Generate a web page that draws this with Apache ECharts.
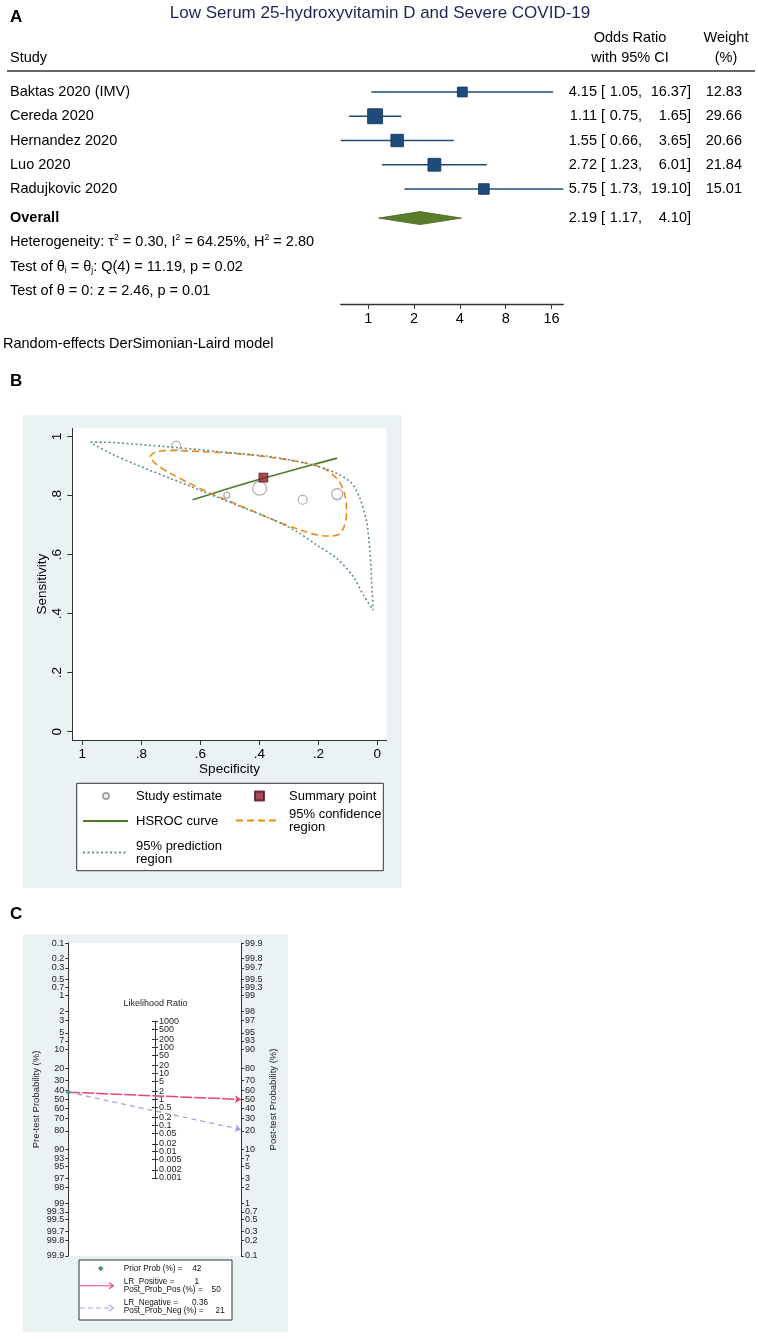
<!DOCTYPE html>
<html><head><meta charset="utf-8">
<script src="https://cdn.jsdelivr.net/npm/echarts@6/dist/echarts.min.js"></script>
<style>html,body{margin:0;padding:0;background:#fff}#c{width:758px;height:1339px}</style>
</head><body><div id="c"></div>
<script>
// ---------------- Panel A data (forest plot) ----------------
const titleA = 'Low Serum 25-hydroxyvitamin D and Severe COVID-19';
const studies = ['Baktas 2020 (IMV)', 'Cereda 2020', 'Hernandez 2020', 'Luo 2020', 'Radujkovic 2020'];
const oddsRatio = [4.15, 1.11, 1.55, 2.72, 5.75];
const ciLower = [1.05, 0.75, 0.66, 1.23, 1.73];
const ciUpper = [16.37, 1.65, 3.65, 6.01, 19.10];
const weights = [12.83, 29.66, 20.66, 21.84, 15.01];
const overallOR = [2.19, 1.17, 4.10];
const forestTicks = [1, 2, 4, 8, 16];
const hetStats = { tau2: '0.30', i2: '64.25', h2: '2.80', q: '11.19', df: 4, pQ: '0.02', z: '2.46', pZ: '0.01' };

// ---------------- Panel B data (SROC) ----------------
const studySpec = [0.682, 0.510, 0.399, 0.253, 0.136];
const studySens = [0.969, 0.801, 0.825, 0.786, 0.805];
const studyRelWeight = [0.9, 0.6, 1.4, 0.9, 1.1];
const summarySpec = [0.386];
const summarySens = [0.861];
const hsrocSpec = [0.626, 0.510, 0.386, 0.251, 0.136];
const hsrocSens = [0.786, 0.822, 0.859, 0.896, 0.927];
const confSpec = [0.771, 0.754, 0.703, 0.590, 0.477, 0.364, 0.251, 0.183, 0.138, 0.113, 0.104, 0.110, 0.132, 0.172, 0.251, 0.364, 0.477, 0.590, 0.703, 0.754, 0.771];
const confSens = [0.932, 0.947, 0.953, 0.949, 0.942, 0.930, 0.912, 0.893, 0.859, 0.814, 0.751, 0.701, 0.667, 0.663, 0.680, 0.723, 0.771, 0.819, 0.876, 0.910, 0.932];
const predSpec = [0.972, 0.929, 0.816, 0.682, 0.533, 0.364, 0.228, 0.138, 0.087, 0.059, 0.036, 0.025, 0.019, 0.014, 0.047, 0.081, 0.138, 0.206, 0.273, 0.364, 0.477, 0.590, 0.703, 0.816, 0.906, 0.962, 0.972];
const predSens = [0.981, 0.981, 0.974, 0.963, 0.949, 0.932, 0.906, 0.876, 0.842, 0.791, 0.712, 0.610, 0.508, 0.412, 0.463, 0.525, 0.588, 0.633, 0.678, 0.723, 0.768, 0.814, 0.859, 0.904, 0.944, 0.974, 0.981];
const srocTicks = [0, 0.2, 0.4, 0.6, 0.8, 1];

// ---------------- Panel C data (Fagan nomogram) ----------------
const preTicks = [0.1, 0.2, 0.3, 0.5, 0.7, 1, 2, 3, 5, 7, 10, 20, 30, 40, 50, 60, 70, 80, 90, 93, 95, 97, 98, 99, 99.3, 99.5, 99.7, 99.8, 99.9];
const postTicks = [99.9, 99.8, 99.7, 99.5, 99.3, 99, 98, 97, 95, 93, 90, 80, 70, 60, 50, 40, 30, 20, 10, 7, 5, 3, 2, 1, 0.7, 0.5, 0.3, 0.2, 0.1];
const lrTicks = [1000, 500, 200, 100, 50, 20, 10, 5, 2, 1, 0.5, 0.2, 0.1, 0.05, 0.02, 0.01, 0.005, 0.002, 0.001];
const priorProb = 42;
const lrPositive = 1;
const postProbPos = 50;
const lrNegative = 0.36;
const postProbNeg = 21;

// ---------------- helpers ----------------
const FONT = "'Liberation Sans', Arial, Helvetica, sans-serif";
const logit = p => Math.log(p / (1 - p));
function txt(x, y, text, o) {
  return { type: 'text', x: x, y: y, z: 10, silent: true,
    style: Object.assign({ text: text, fontFamily: FONT, fontSize: 14.5, fill: '#000', align: 'left', verticalAlign: 'middle' }, o || {}) };
}
const chart = echarts.init(document.getElementById('c'), null, { renderer: 'canvas' });

// layout of panel A rows
const rowTop = 92, rowStep = 24.25;
const overallRow = studies.length + 0.2;
const rowPx = r => rowTop + rowStep * r;

// panel C geometry
const cLeft = 68.3, cTop = 943, cW = 172.7, cH = 313;
const cRange = Math.log(1000);
const lrRange = 3.001;
const lrHalfPx = (lrRange * Math.LN10 / 2) / cRange * (cH / 2);
const cMid = cTop + cH / 2;

const leftMap = new Map(preTicks.map(p => [logit(p / 100).toFixed(6), String(p)]));
const rightMap = new Map(postTicks.map(p => [(-logit(p / 100)).toFixed(6), String(p)]));
const lrMap = new Map(lrTicks.map(v => [Math.log10(v).toFixed(6), String(v)]));
const lrLog = lrTicks.map(v => Math.log10(v));
const lrInner = lrLog.slice(1, -1);
const lrEnds = [lrLog[0], lrLog[lrLog.length - 1]];

// ---------------- graphic (texts / frames) ----------------
const g = [];
g.push({ type: 'rect', z: -5, silent: true, shape: { x: 23, y: 415, width: 378.7, height: 473 }, style: { fill: '#eaf2f3' } });
g.push({ type: 'rect', z: -5, silent: true, shape: { x: 23, y: 934, width: 265, height: 398 }, style: { fill: '#eaf2f3' } });
g.push(txt(10, 17, 'A', { fontWeight: 'bold', fontSize: 17 }));
g.push(txt(10, 381, 'B', { fontWeight: 'bold', fontSize: 17 }));
g.push(txt(10, 914, 'C', { fontWeight: 'bold', fontSize: 17 }));
g.push(txt(380, 13, titleA, { fontSize: 17, fill: '#1b2553', align: 'center' }));
g.push(txt(10, 58, 'Study'));
g.push(txt(630, 38, 'Odds Ratio', { align: 'center' }));
g.push(txt(630, 58, 'with 95% CI', { align: 'center' }));
g.push(txt(726, 38, 'Weight', { align: 'center' }));
g.push(txt(726, 58, '(%)', { align: 'center' }));
g.push({ type: 'line', silent: true, z: 5, shape: { x1: 7, y1: 71, x2: 755, y2: 71 }, style: { stroke: '#333', lineWidth: 1.4 } });
function ciCols(y, or, lo, hi, w) {
  g.push(txt(597, y, or.toFixed(2), { align: 'right' }));
  g.push(txt(601, y, '[', { align: 'left' }));
  g.push(txt(642, y, lo.toFixed(2) + ',', { align: 'right' }));
  g.push(txt(691, y, hi.toFixed(2) + ']', { align: 'right' }));
  if (w != null) g.push(txt(742, y, w.toFixed(2), { align: 'right' }));
}
studies.forEach((s, i) => {
  const y = rowPx(i);
  g.push(txt(10, y, s));
  ciCols(y, oddsRatio[i], ciLower[i], ciUpper[i], weights[i]);
});
const yOv = rowPx(overallRow);
g.push(txt(10, yOv, 'Overall', { fontWeight: 'bold' }));
ciCols(yOv, overallOR[0], overallOR[1], overallOR[2], null);
const richA = {
  n: { fontSize: 14.5, fontFamily: FONT, fill: '#000', lineHeight: 17 },
  s: { fontSize: 8.5, fontFamily: FONT, fill: '#000', lineHeight: 17, verticalAlign: 'top' },
  b: { fontSize: 8.5, fontFamily: FONT, fill: '#000', lineHeight: 17, verticalAlign: 'bottom' }
};
g.push(txt(10, 242, '{n|Heterogeneity: \u03c4}{s|2}{n| = ' + hetStats.tau2 + ', I}{s|2}{n| = ' + hetStats.i2 + '%, H}{s|2}{n| = ' + hetStats.h2 + '}', { rich: richA }));
g.push(txt(10, 267, '{n|Test of \u03b8}{b|i}{n| = \u03b8}{b|j}{n|: Q(' + hetStats.df + ') = ' + hetStats.q + ', p = ' + hetStats.pQ + '}', { rich: richA }));
g.push(txt(10, 291, 'Test of \u03b8 = 0: z = ' + hetStats.z + ', p = ' + hetStats.pZ));
g.push(txt(3, 344, 'Random-effects DerSimonian-Laird model'));
g.push({ type: 'rect', z: 1, silent: true, shape: { x: 76.7, y: 783.3, width: 306.6, height: 87.4 }, style: { fill: '#fff', stroke: '#333', lineWidth: 1 } });
g.push(txt(155.5, 1004, 'Likelihood Ratio', { fontSize: 9, align: 'center', fill: '#222' }));
// Panel C legend
g.push({ type: 'rect', z: 1, silent: true, shape: { x: 79, y: 1260, width: 153, height: 60 }, style: { fill: '#fff', stroke: '#333', lineWidth: 1 } });
g.push({ type: 'polygon', z: 10, silent: true, shape: { points: [[100.7, 1265.7], [103.5, 1268.5], [100.7, 1271.3], [97.9, 1268.5]] }, style: { fill: '#4e8a76' } });
const fC = { fontSize: 8.2, fill: '#111' };
const fCR = Object.assign({ align: 'right' }, fC);
g.push(txt(123.7, 1268.7, 'Prior Prob (%) =', fC));
g.push(txt(201.3, 1268.7, String(priorProb), fCR));
g.push({ type: 'line', z: 10, silent: true, shape: { x1: 80, y1: 1285.7, x2: 113, y2: 1285.7 }, style: { stroke: '#e5456f', lineWidth: 1.1 } });
g.push({ type: 'polyline', z: 10, silent: true, shape: { points: [[109, 1282.7], [113.5, 1285.7], [109, 1288.7]] }, style: { stroke: '#e5456f', lineWidth: 1.1, fill: null } });
g.push(txt(123.7, 1282, 'LR_Positive =', fC));
g.push(txt(199, 1282, String(lrPositive), fCR));
g.push(txt(123.7, 1290, 'Post_Prob_Pos (%) =', fC));
g.push(txt(220.7, 1290, String(postProbPos), fCR));
g.push({ type: 'line', z: 10, silent: true, shape: { x1: 80, y1: 1308, x2: 113, y2: 1308 }, style: { stroke: '#a8a2ea', lineWidth: 1.1, lineDash: [5, 3] } });
g.push({ type: 'polyline', z: 10, silent: true, shape: { points: [[109, 1305], [113.5, 1308], [109, 1311]] }, style: { stroke: '#a8a2ea', lineWidth: 1.1, fill: null } });
g.push(txt(123.7, 1302.3, 'LR_Negative =', fC));
g.push(txt(208, 1302.3, String(lrNegative), fCR));
g.push(txt(123.7, 1310.5, 'Post_Prob_Neg (%) =', fC));
g.push(txt(224.7, 1310.5, String(postProbNeg), fCR));

// ---------------- legends for panel B ----------------
const legBase = { padding: 0, selectedMode: false, textStyle: { fontFamily: FONT, fontSize: 13, color: '#000', lineHeight: 13 } };
function leg(name, left, top, w, h, padLeft, extra) {
  return Object.assign({}, legBase, {
    data: [name], left: left, top: top, itemWidth: w, itemHeight: h,
    textStyle: Object.assign({}, legBase.textStyle, { padding: [0, 0, 0, padLeft] }),
    formatter: n => n.replace(' region', '\nregion')
  }, extra || {});
}
const noDot = { itemStyle: { color: 'rgba(0,0,0,0)', borderColor: 'rgba(0,0,0,0)', borderWidth: 0 } };

const axisStyle = { lineStyle: { color: '#333', width: 1 } };
const lrLabelBase = { inside: true, fontSize: 9, color: '#222', margin: 4, fontFamily: FONT,
  showMinLabel: true, showMaxLabel: true, hideOverlap: false,
  formatter: v => lrMap.get(Number(v).toFixed(6)) || '' };

const option = {
  animation: false,
  textStyle: { fontFamily: FONT },
  graphic: { elements: g },
  legend: [
    leg('Study estimate', 102, 789.5, 6, 6, 22, { icon: 'circle' }),
    leg('Summary point', 254, 789.5, 9, 9, 20, { icon: 'rect' }),
    leg('HSROC curve', 82, 814.5, 45, 8, 3, noDot),
    leg('95% confidence region', 235, 807.5, 43, 8, 5, noDot),
    leg('95% prediction region', 82, 839.5, 45, 8, 3, noDot)
  ],
  grid: [
    { left: 340.7, top: 71, width: 222.6, height: 233 },
    { left: 72.3, top: 428.3, width: 314.4, height: 311.7, show: true, backgroundColor: '#fff', borderWidth: 0 },
    { left: cLeft, top: cTop, width: cW, height: cH, show: true, backgroundColor: '#fff', borderWidth: 0 },
    { left: 155, top: cMid - lrHalfPx, width: 1, height: 2 * lrHalfPx }
  ],
  xAxis: [
    { gridIndex: 0, type: 'log', logBase: 2, min: 0.66, max: 19.1, position: 'bottom',
      axisLine: { show: true, onZero: false, lineStyle: { color: '#333', width: 1.3 } },
      axisTick: { show: true, length: 5, customValues: forestTicks, lineStyle: { color: '#333' } },
      axisLabel: { customValues: forestTicks, fontSize: 14.5, color: '#000', margin: 7, fontFamily: FONT },
      splitLine: { show: false }, minorTick: { show: false } },
    { gridIndex: 1, type: 'value', min: -0.032, max: 1.034, inverse: true, position: 'bottom',
      name: 'Specificity', nameLocation: 'middle', nameGap: 21, nameTextStyle: { fontSize: 13.5, color: '#000', fontFamily: FONT },
      axisLine: Object.assign({ onZero: false }, axisStyle),
      axisTick: { length: 5, customValues: srocTicks, lineStyle: { color: '#333' } },
      axisLabel: { customValues: srocTicks, fontSize: 13.5, color: '#000', margin: 7, fontFamily: FONT, showMinLabel: true, showMaxLabel: true,
        formatter: v => v < 0.001 ? '0' : (v > 0.999 ? '1' : '.' + Math.round(v * 10)) },
      splitLine: { show: false } },
    { gridIndex: 2, type: 'value', min: 0, max: 1, show: false },
    { gridIndex: 3, type: 'value', min: 0, max: 1, show: false }
  ],
  yAxis: [
    { gridIndex: 0, type: 'value', min: (71 - rowTop) / rowStep, max: (304 - rowTop) / rowStep, inverse: true, show: false },
    { gridIndex: 1, type: 'value', min: -0.028, max: 1.028, position: 'left',
      name: 'Sensitivity', nameLocation: 'middle', nameGap: 23, nameRotate: 90, nameTextStyle: { fontSize: 13.5, color: '#000', fontFamily: FONT },
      axisLine: Object.assign({ onZero: false }, axisStyle),
      axisTick: { length: 5, customValues: srocTicks, lineStyle: { color: '#333' } },
      axisLabel: { customValues: srocTicks, rotate: 90, fontSize: 13.5, color: '#000', margin: 8, fontFamily: FONT, showMinLabel: true, showMaxLabel: true,
        formatter: v => v < 0.001 ? '0' : (v > 0.999 ? '1' : '.' + Math.round(v * 10)) },
      splitLine: { show: false } },
    { gridIndex: 2, type: 'value', min: -cRange, max: cRange, inverse: true, position: 'left',
      name: 'Pre-test Probability (%)', nameLocation: 'middle', nameGap: 27, nameRotate: 90,
      nameTextStyle: { fontSize: 9.5, color: '#222', fontFamily: FONT },
      axisLine: Object.assign({ onZero: false }, axisStyle),
      axisTick: { length: 3, customValues: preTicks.map(p => logit(p / 100)), lineStyle: { color: '#333' } },
      axisLabel: { customValues: preTicks.map(p => logit(p / 100)), fontSize: 9, color: '#222', margin: 4, fontFamily: FONT, showMinLabel: true, showMaxLabel: true, hideOverlap: false,
        formatter: v => leftMap.get(Number(v).toFixed(6)) || '' },
      splitLine: { show: false } },
    { gridIndex: 2, type: 'value', min: -cRange, max: cRange, inverse: true, position: 'right',
      name: 'Post-test Probability (%)', nameLocation: 'middle', nameGap: 27, nameRotate: 90,
      nameTextStyle: { fontSize: 9.5, color: '#222', fontFamily: FONT },
      axisLine: Object.assign({ onZero: false }, axisStyle),
      axisTick: { length: 3, customValues: postTicks.map(p => -logit(p / 100)), lineStyle: { color: '#333' } },
      axisLabel: { customValues: postTicks.map(p => -logit(p / 100)), fontSize: 9, color: '#222', margin: 4, fontFamily: FONT, showMinLabel: true, showMaxLabel: true, hideOverlap: false,
        formatter: v => rightMap.get(Number(v).toFixed(6)) || '' },
      splitLine: { show: false } },
    // LR scale: line + right-pointing ticks + inner labels
    { gridIndex: 3, type: 'value', min: -lrRange, max: lrRange, position: 'left',
      axisLine: Object.assign({ onZero: false }, axisStyle),
      axisTick: { length: 3, inside: true, customValues: lrLog, lineStyle: { color: '#333' } },
      axisLabel: Object.assign({ customValues: lrInner }, lrLabelBase),
      splitLine: { show: false } },
    // LR scale: left-pointing ticks
    { gridIndex: 3, type: 'value', min: -lrRange, max: lrRange, position: 'right',
      axisLine: { show: false },
      axisTick: { length: 3, inside: true, customValues: lrLog, lineStyle: { color: '#333' } },
      axisLabel: { show: false },
      splitLine: { show: false } },
    // LR scale: end labels (1000 and 0.001)
    { gridIndex: 3, type: 'value', min: -lrRange, max: lrRange, position: 'left', offset: 0,
      axisLine: { show: false }, axisTick: { show: false },
      axisLabel: Object.assign({ customValues: lrEnds }, lrLabelBase),
      splitLine: { show: false } }
  ],
  series: [
    { type: 'custom', xAxisIndex: 0, yAxisIndex: 0, silent: true,
      data: studies.map((s, i) => [oddsRatio[i], ciLower[i], ciUpper[i], i]),
      encode: { x: [0, 1, 2], y: 3 },
      renderItem: (params, api) => {
        const y = api.value(3);
        const p1 = api.coord([api.value(1), y]);
        const p2 = api.coord([api.value(2), y]);
        return { type: 'line', shape: { x1: p1[0], y1: p1[1], x2: p2[0], y2: p2[1] }, style: { stroke: '#1d4c7c', lineWidth: 1.3 } };
      } },
    { type: 'scatter', xAxisIndex: 0, yAxisIndex: 0, silent: true, symbol: 'rect',
      data: studies.map((s, i) => [oddsRatio[i], i, weights[i]]),
      symbolSize: v => 2.75 * Math.sqrt(v[2]),
      itemStyle: { color: '#1d4c7c', borderColor: '#10304f', borderWidth: 0.8, opacity: 1 } },
    { type: 'custom', xAxisIndex: 0, yAxisIndex: 0, silent: true,
      data: [[overallOR[0], overallOR[1], overallOR[2], overallRow]],
      encode: { x: [0, 1, 2], y: 3 },
      renderItem: (params, api) => {
        const y = api.value(3);
        const c = api.coord([api.value(0), y]);
        const l = api.coord([api.value(1), y]);
        const r = api.coord([api.value(2), y]);
        const h = 6.5;
        return { type: 'polygon', shape: { points: [[l[0], l[1]], [c[0], c[1] - h], [r[0], r[1]], [c[0], c[1] + h]] },
          style: { fill: '#5a7d2c', stroke: '#47661f', lineWidth: 0.8 } };
      } },
    { name: 'Study estimate', type: 'scatter', xAxisIndex: 1, yAxisIndex: 1, silent: true, symbol: 'circle', z: 4,
      data: studySpec.map((s, i) => [s, studySens[i], studyRelWeight[i]]),
      symbolSize: v => 10 * v[2],
      itemStyle: { color: 'rgba(255,255,255,0)', borderColor: '#8c8c8c', borderWidth: 1.1 } },
    { name: 'Summary point', type: 'scatter', xAxisIndex: 1, yAxisIndex: 1, silent: true, symbol: 'rect', symbolSize: 9, z: 5,
      data: summarySpec.map((s, i) => [s, summarySens[i]]),
      itemStyle: { color: '#8d1f2b', borderColor: '#5c0f19', borderWidth: 0.8 } },
    { name: 'HSROC curve', type: 'line', xAxisIndex: 1, yAxisIndex: 1, silent: true, symbol: 'none', showSymbol: false, smooth: 0.2, z: 3,
      data: hsrocSpec.map((s, i) => [s, hsrocSens[i]]),
      lineStyle: { color: '#4e7a25', width: 1.6 }, itemStyle: { color: '#4e7a25' } },
    { name: '95% confidence region', type: 'line', xAxisIndex: 1, yAxisIndex: 1, silent: true, symbol: 'none', showSymbol: false, smooth: 0.3, z: 3,
      data: confSpec.map((s, i) => [s, confSens[i]]),
      lineStyle: { color: '#f08a16', width: 1.6, type: [7, 4] }, itemStyle: { color: '#f08a16' } },
    { name: '95% prediction region', type: 'line', xAxisIndex: 1, yAxisIndex: 1, silent: true, symbol: 'none', showSymbol: false, smooth: 0.3, z: 3,
      data: predSpec.map((s, i) => [s, predSens[i]]),
      lineStyle: { color: '#5f8f8f', width: 1.6, type: [2, 2.5] }, itemStyle: { color: '#5f8f8f' } },
    { type: 'lines', coordinateSystem: 'cartesian2d', xAxisIndex: 2, yAxisIndex: 2, silent: true, z: 4,
      symbol: ['none', 'arrow'], symbolSize: 6,
      data: [{ coords: [[0, logit(priorProb / 100)], [1, -logit(postProbPos / 100)]] }],
      lineStyle: { color: '#e5456f', width: 1.5, type: [12, 2], opacity: 1 } },
    { type: 'lines', coordinateSystem: 'cartesian2d', xAxisIndex: 2, yAxisIndex: 2, silent: true, z: 4,
      symbol: ['none', 'arrow'], symbolSize: 6,
      data: [{ coords: [[0, logit(priorProb / 100)], [1, -logit(postProbNeg / 100)]] }],
      lineStyle: { color: '#a8a2ea', width: 1.3, type: [5, 4], opacity: 1 } },
    { type: 'scatter', xAxisIndex: 2, yAxisIndex: 2, silent: true, symbol: 'diamond', symbolSize: 6, z: 5,
      data: [[0, logit(priorProb / 100)]],
      itemStyle: { color: '#4e8a76' } }
  ]
};
chart.setOption(option);
</script>
</body></html>
